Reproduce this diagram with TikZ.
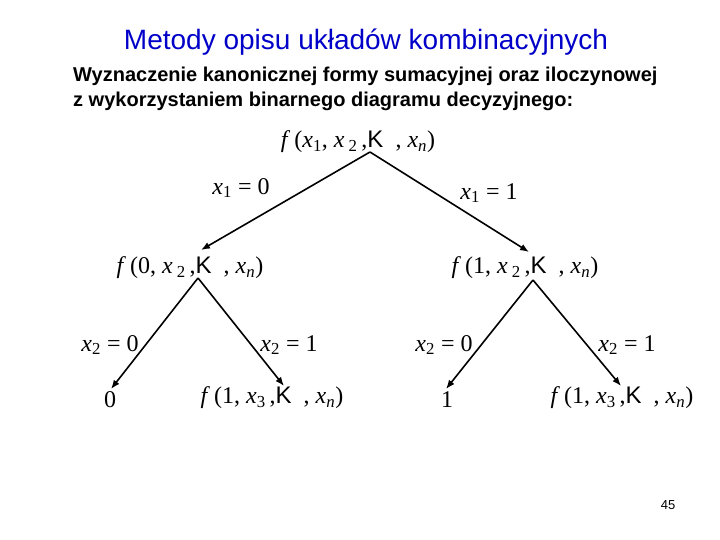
\documentclass[tikz,border=0pt]{standalone}
\usepackage{fontspec}
\setmainfont{Liberation Sans}
\newfontfamily\tms{Liberation Serif}
\usetikzlibrary{arrows.meta}
\definecolor{titleblue}{RGB}{0,0,200}

% zmienne w stylu wzorow
\newcommand\vx[1]{\textit{x}\textsubscript{#1}}
\newcommand\kk{{\rmfamily K}}

\tikzset{
  wzor/.style={font=\fontsize{24}{28}\selectfont\tms, inner sep=0pt},
  galaz/.style={line width=1.6pt, -{Latex[length=9pt,width=7pt]}},
}

\begin{document}
\begin{tikzpicture}[x=1pt, y=-1pt]
  \useasboundingbox (0,0) rectangle (720,540);

  % naglowek
  \node[font=\fontsize{28}{32}\selectfont, text=titleblue] (tytul) at (366,42) {Metody opisu układów kombinacyjnych};
  \node[font=\fontsize{20}{25}\selectfont\bfseries, align=left, anchor=west, inner sep=0pt] (podtytul) at (73,88.5)
    {Wyznaczenie kanonicznej formy sumacyjnej oraz iloczynowej\\
     z wykorzystaniem binarnego diagramu decyzyjnego:};

  % wezly drzewa
  \node[wzor] (f)   at (358,142) {\textit{f}\,(\vx{1}, \textit{x}\,\textsubscript{2}\,,\kk\ \ , \vx{\textit{n}})};
  \node[wzor] (f0)  at (190,268) {\textit{f}\,(0, \textit{x}\,\textsubscript{2}\,,\kk\ \ , \vx{\textit{n}})};
  \node[wzor] (f1)  at (525,268) {\textit{f}\,(1, \textit{x}\,\textsubscript{2}\,,\kk\ \ , \vx{\textit{n}})};
  \node[wzor] (l00) at (110,400) {0};
  \node[wzor] (l01) at (272,398) {\textit{f}\,(1, \vx{3}\,,\kk\ \ , \vx{\textit{n}})};
  \node[wzor] (l10) at (447,400) {1};
  \node[wzor] (l11) at (622,398) {\textit{f}\,(1, \vx{3}\,,\kk\ \ , \vx{\textit{n}})};

  % punkty rozgalezien i konce strzalek
  \coordinate (r)   at (370,152);
  \coordinate (r0)  at (198,278);
  \coordinate (r1)  at (533,280);
  \coordinate (e0)  at (201,250);
  \coordinate (e1)  at (529,252);
  \coordinate (e00) at (111,389);
  \coordinate (e01) at (284,386);
  \coordinate (e10) at (446,389);
  \coordinate (e11) at (621,386);

  \foreach \a/\b in {r/e0, r/e1, r0/e00, r0/e01, r1/e10, r1/e11}
    \draw[galaz] (\a) -- (\b);

  % etykiety galezi
  \node[wzor] (w1a) at (241,188) {\vx{1} = 0};
  \node[wzor] (w1b) at (489,193) {\vx{1} = 1};
  \foreach \x/\v/\n in {110/0/a, 289/1/b, 444/0/c, 627/1/d}
    \node[wzor] (w2\n) at (\x,345) {\vx{2} = \v};

  % numer strony
  \node[font=\fontsize{13}{15}\selectfont] (nr) at (668,505) {45};
\end{tikzpicture}
\end{document}
